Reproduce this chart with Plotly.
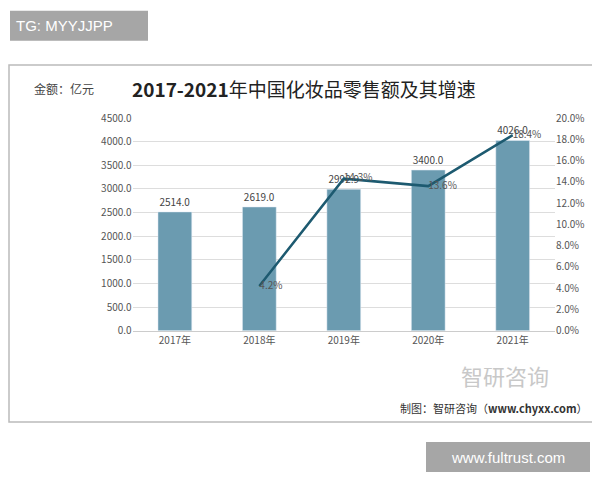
import plotly.graph_objects as go

years = ["2017年", "2018年", "2019年", "2020年", "2021年"]
sales = [2514.0, 2619.0, 2992.9, 3400.0, 4026.0]
growth_years = ["2018年", "2019年", "2020年", "2021年"]
growth = [4.2, 14.3, 13.6, 18.4]

font = "Noto Sans CJK SC"


# pixel position in the picture -> paper coordinate (measured offset of the page)
def px(d):
    return ((d - 7.1) / 0.978) / 600


def sx(d):
    return max(d - 8, 0) / 600


def py(d):
    return 1 - ((d - 16.2) / 0.966) / 480


def note(text, x, y, size, color, xanchor="left", family=font):
    return dict(text=text, x=sx(x), y=py(y), xref="paper", yref="paper",
                xanchor=xanchor, yanchor="middle", showarrow=False,
                font=dict(size=size, color=color, family=family))


fig = go.Figure()
fig.add_trace(go.Bar(x=years, y=sales, marker_color="#6b9bb0",
                     text=[f"{v:.1f}" for v in sales], textposition="outside",
                     textfont=dict(size=10, color="#444"), cliponaxis=False))
fig.add_trace(go.Scatter(x=growth_years, y=growth, yaxis="y2", mode="lines+text",
                         line=dict(color="#1d5a70", width=2.5),
                         text=[f"{v}%" for v in growth], textposition="middle right",
                         textfont=dict(size=10, color="#555"), cliponaxis=False))

fig.update_layout(
    width=600, height=480, showlegend=False, plot_bgcolor="white", paper_bgcolor="white",
    margin=dict(l=0, r=0, t=0, b=0), bargap=0.6,
    font=dict(family=font, size=10, color="#555"),
    xaxis=dict(domain=[px(129), px(542)], showline=True, linecolor="#ccc", ticks=""),
    yaxis=dict(domain=[py(329), py(117)], range=[0, 4500], dtick=500, tickformat=".1f",
               gridcolor="#ddd", zeroline=False),
    yaxis2=dict(range=[0, 20], dtick=2, ticksuffix="%", tickformat=".1f",
                overlaying="y", side="right", showgrid=False, zeroline=False),
    shapes=[
        dict(type="rect", xref="paper", yref="paper", x0=sx(9), x1=sx(597),
             y0=py(420), y1=py(64), line=dict(color="#bbb", width=1.5), layer="below"),
        dict(type="rect", xref="paper", yref="paper", x0=sx(10), x1=sx(148),
             y0=py(40), y1=py(10), fillcolor="#a6a6a6", line_width=0, layer="below"),
        dict(type="rect", xref="paper", yref="paper", x0=sx(426), x1=sx(590),
             y0=py(470), y1=py(440), fillcolor="#a6a6a6", line_width=0, layer="below"),
    ],
    annotations=[
        note("TG: MYYJJPP", 14, 25, 15, "white", family="Liberation Sans"),
        note("www.fultrust.com", 508, 455, 15, "white", "center", "Liberation Sans"),
        note("金额：亿元", 32, 87, 12, "#444"),
        note("<b>2017-2021</b>年中国化妆品零售额及其增速", 130, 87, 19, "#222"),
        note("智研咨询", 505, 373, 22, "#c8c8c8", "center"),
        note("制图：智研咨询（<b>www.chyxx.com</b>）", 590, 406, 11, "#333", "right"),
    ],
)
fig.write_html("out.html")
